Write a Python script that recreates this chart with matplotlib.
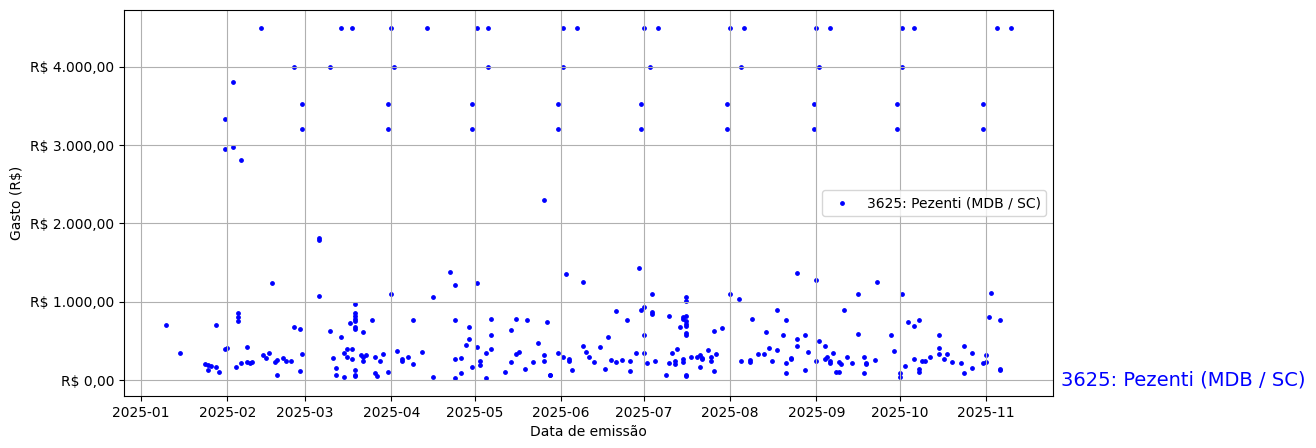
import matplotlib
matplotlib.use("Agg")
import matplotlib.pyplot as plt
import matplotlib.ticker as mticker
import matplotlib.transforms as mtransforms
import pandas as pd

DEPUTADO = "3625: Pezenti (MDB / SC)"

# Data de emissão de cada nota e os valores (R$) lançados naquele dia.
datas = [
    "2025-01-10", "2025-01-15", "2025-01-24", "2025-01-25", "2025-01-26", "2025-01-28",
    "2025-01-29", "2025-01-31", "2025-02-01", "2025-02-03", "2025-02-04", "2025-02-05",
    "2025-02-06", "2025-02-08", "2025-02-09", "2025-02-10", "2025-02-13", "2025-02-14",
    "2025-02-15", "2025-02-16", "2025-02-17", "2025-02-18", "2025-02-19", "2025-02-21",
    "2025-02-22", "2025-02-24", "2025-02-25", "2025-02-27", "2025-02-28", "2025-03-06",
    "2025-03-10", "2025-03-11", "2025-03-12", "2025-03-14", "2025-03-15", "2025-03-16",
    "2025-03-17", "2025-03-18", "2025-03-19", "2025-03-21", "2025-03-22", "2025-03-23",
    "2025-03-25", "2025-03-26", "2025-03-27", "2025-03-28", "2025-03-29", "2025-03-31",
    "2025-04-01", "2025-04-02", "2025-04-03", "2025-04-05", "2025-04-07", "2025-04-09",
    "2025-04-12", "2025-04-14", "2025-04-16", "2025-04-22", "2025-04-24", "2025-04-26",
    "2025-04-28", "2025-04-29", "2025-04-30", "2025-05-02", "2025-05-03", "2025-05-05",
    "2025-05-06", "2025-05-07", "2025-05-12", "2025-05-14", "2025-05-16", "2025-05-17",
    "2025-05-19", "2025-05-20", "2025-05-22", "2025-05-24", "2025-05-26", "2025-05-27",
    "2025-05-28", "2025-05-31", "2025-06-02", "2025-06-03", "2025-06-04", "2025-06-05",
    "2025-06-07", "2025-06-09", "2025-06-10", "2025-06-11", "2025-06-13", "2025-06-15",
    "2025-06-17", "2025-06-18", "2025-06-19", "2025-06-21", "2025-06-23", "2025-06-25",
    "2025-06-26", "2025-06-28", "2025-06-29", "2025-06-30", "2025-07-01", "2025-07-02",
    "2025-07-03", "2025-07-04", "2025-07-05", "2025-07-06", "2025-07-09", "2025-07-10",
    "2025-07-11", "2025-07-12", "2025-07-13", "2025-07-14", "2025-07-15", "2025-07-16",
    "2025-07-18", "2025-07-20", "2025-07-21", "2025-07-22", "2025-07-24", "2025-07-25",
    "2025-07-26", "2025-07-27", "2025-07-29", "2025-07-31", "2025-08-01", "2025-08-04",
    "2025-08-05", "2025-08-06", "2025-08-08", "2025-08-09", "2025-08-11", "2025-08-13",
    "2025-08-14", "2025-08-15", "2025-08-16", "2025-08-18", "2025-08-20", "2025-08-21",
    "2025-08-23", "2025-08-25", "2025-08-28", "2025-08-29", "2025-08-31", "2025-09-01",
    "2025-09-02", "2025-09-04", "2025-09-05", "2025-09-06", "2025-09-07", "2025-09-08",
    "2025-09-09", "2025-09-10", "2025-09-11", "2025-09-12", "2025-09-14", "2025-09-16",
    "2025-09-18", "2025-09-19", "2025-09-22", "2025-09-23", "2025-09-28", "2025-09-29",
    "2025-09-30", "2025-10-01", "2025-10-02", "2025-10-03", "2025-10-04", "2025-10-06",
    "2025-10-08", "2025-10-09", "2025-10-10", "2025-10-12", "2025-10-15", "2025-10-17",
    "2025-10-18", "2025-10-20", "2025-10-23", "2025-10-24", "2025-10-27", "2025-10-31",
    "2025-11-01", "2025-11-02", "2025-11-03", "2025-11-05", "2025-11-06", "2025-11-10",
]

valores = [
    [700], [340], [200], [190, 125], [175], [160, 700],
    [100], [3330, 2950, 390], [405], [3800, 2970], [160], [850, 800, 755],
    [2810, 215], [420, 225], [220], [225], [4500], [315],
    [280], [340], [1240], [225], [260, 70], [275],
    [240], [240], [4000, 675], [650, 110], [3525, 3200, 330], [1810, 1790, 1070],
    [4000, 620], [275], [150, 70], [4500, 545], [340, 35], [290, 390],
    [725], [4500, 390, 265], [975, 850, 820, 785, 755, 675, 655, 125, 60, 55], [315], [610, 290, 240], [315],
    [760], [290, 85], [45], [240], [330], [3525, 3200, 100],
    [4500, 1100], [4000], [365], [265, 240], [300], [760, 200],
    [355], [4500], [1060, 35], [1380], [1210, 760, 265, 20], [275, 85],
    [445], [675, 520], [3525, 3200, 160], [4500, 1240, 420], [190, 240], [340, 20],
    [4500, 4000], [775, 570, 390], [100], [225, 635], [330, 775], [355],
    [135], [760], [225], [470], [2300, 315, 240], [735],
    [70, 60], [3525, 3200, 340], [4500, 4000, 300], [1350], [240, 265], [125],
    [4500], [1250, 430], [355], [290], [225], [420],
    [135], [545], [250], [880, 225], [250], [760],
    [240, 110], [340], [1430], [3525, 3200, 890], [4500, 930, 570, 340], [215],
    [4000], [1100, 865, 840], [240], [4500], [70], [815, 215],
    [340], [200, 240], [390], [675], [800, 775, 265, 225], [1060, 1005, 815, 750, 710, 685, 595, 570, 70, 45],
    [290], [300], [315, 160], [275, 265], [380], [300, 240],
    [620, 110], [330], [660], [3525, 3200], [4500, 1100], [1030],
    [4000, 240], [4500], [225, 250], [775], [330], [330],
    [610], [405], [240], [890, 380], [570], [760, 215, 85],
    [265, 275], [1370, 520, 430], [570, 125], [355], [3525, 3200], [4500, 1280, 240],
    [4000, 495], [430, 265], [300], [4500, 240, 215], [340], [100],
    [100, 225], [200], [890], [290], [215], [1100, 585],
    [300, 85], [200, 215], [250], [1250], [570], [365],
    [3525, 3200], [85, 35], [4500, 4000, 1100], [175], [735], [4500, 685, 265],
    [760, 135, 100], [240], [240], [290], [570, 405, 330], [265],
    [330], [225], [215], [430, 85], [340, 150], [3525, 3200, 215],
    [225, 315], [800], [1110], [4500], [760, 135, 130], [4500],
]

df = pd.DataFrame({"data": datas, "valor": valores}).explode("valor")
df["data"] = pd.to_datetime(df["data"])
df["valor"] = df["valor"].astype(float)


def formata_real(v, pos):
    s = f"{v:,.2f}"
    return "R$ " + s.replace(",", "X").replace(".", ",").replace("X", ".")


fig, ax = plt.subplots(figsize=(13.16, 4.48), dpi=100)
fig.subplots_adjust(left=124 / 1316, right=1053 / 1316, bottom=52 / 448, top=438 / 448)

ax.scatter(df["data"], df["valor"], s=6, color="blue", label=DEPUTADO)
ax.yaxis.set_major_formatter(mticker.FuncFormatter(formata_real))
ax.set_xlabel("Data de emissão")
ax.set_ylabel("Gasto (R$)")
ax.grid(True)
ax.legend(loc="center right")

# Nome do deputado ao lado do eixo, na altura do zero
trans = mtransforms.blended_transform_factory(ax.transAxes, ax.transData)
ax.text(1.009, 0, DEPUTADO, transform=trans, color="blue", fontsize=14, va="center")

fig.savefig("out.png", dpi=100)
